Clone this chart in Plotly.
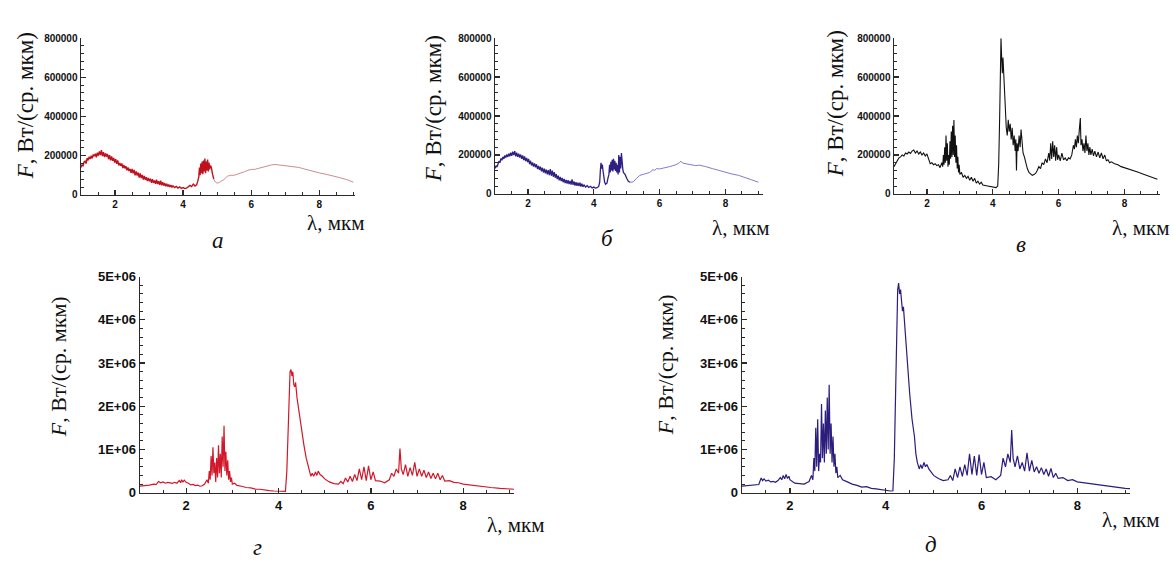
import plotly.graph_objects as go

# Spectral radiant intensity, values in thousands of W/(sr*um)
spec_a = [(1.00,140),(1.03,155),(1.06,146),(1.09,168),(1.12,172),(1.15,160),(1.18,188),(1.21,176),(1.24,195),(1.27,183),
 (1.30,200),(1.33,186),(1.36,206),(1.39,197),(1.42,210),(1.45,192),(1.48,215),(1.51,200),(1.54,222),(1.57,203),
 (1.60,228),(1.63,198),(1.66,218),(1.69,193),(1.72,212),(1.75,195),(1.78,208),(1.81,182),(1.84,203),(1.87,176),
 (1.90,196),(1.93,174),(1.96,188),(1.99,165),(2.02,182),(2.05,158),(2.08,176),(2.11,150),(2.14,163),(2.17,148),
 (2.20,160),(2.23,137),(2.26,152),(2.29,135),(2.32,146),(2.35,125),(2.38,140),(2.41,122),(2.44,133),(2.47,112),
 (2.50,132),(2.53,110),(2.56,127),(2.59,100),(2.62,120),(2.65,98),(2.68,114),(2.71,88),(2.74,110),(2.77,86),
 (2.80,102),(2.83,78),(2.86,97),(2.89,77),(2.92,90),(2.95,70),(2.98,86),(3.01,69),(3.04,82),(3.07,62),
 (3.10,80),(3.13,61),(3.16,73),(3.19,56),(3.22,77),(3.25,55),(3.28,70),(3.31,51),(3.34,72),(3.37,49),
 (3.40,64),(3.43,47),(3.46,60),(3.49,44),(3.52,57),(3.55,42),(3.58,53),(3.61,40),(3.64,50),(3.67,38),
 (3.70,46),(3.75,37),(3.80,43),(3.85,35),(3.90,41),(3.95,33),(4.00,37),(4.05,32),(4.10,34),(4.15,40),
 (4.20,48),(4.25,42),(4.30,55),(4.35,45),(4.40,52),(4.43,70),(4.46,90),(4.48,140),(4.50,100),(4.52,160),
 (4.54,110),(4.56,170),(4.58,105),(4.60,175),(4.62,120),(4.64,185),(4.66,110),(4.68,170),(4.70,125),(4.72,180),
 (4.74,120),(4.76,165),(4.78,130),(4.80,150),(4.83,140),(4.86,110),(4.90,80)]
spec_a_tail = [(4.90,80),(4.95,65),(5.00,60),(5.05,62),(5.10,68),(5.20,78),(5.30,95),(5.40,100),(5.50,100),(5.60,105),
 (5.70,110),(5.80,118),(5.90,125),(6.00,130),(6.10,130),(6.20,135),(6.30,140),(6.40,145),(6.50,150),(6.60,153),
 (6.70,155),(6.80,153),(6.90,150),(7.00,148),(7.10,148),(7.20,147),(7.30,145),(7.40,140),(7.50,135),(7.60,130),
 (7.80,120),(8.00,112),(8.20,105),(8.40,98),(8.60,88),(8.80,78),(9.00,65)]

spec_b = [(1.00,130),(1.03,145),(1.06,138),(1.09,162),(1.12,168),(1.15,160),(1.18,182),(1.21,173),(1.24,190),(1.27,180),
 (1.30,197),(1.33,186),(1.36,202),(1.39,190),(1.42,207),(1.45,193),(1.48,212),(1.51,196),(1.54,217),(1.57,199),
 (1.60,220),(1.63,193),(1.66,212),(1.69,190),(1.72,207),(1.75,186),(1.78,202),(1.81,180),(1.84,198),(1.87,174),
 (1.90,192),(1.93,168),(1.96,185),(1.99,163),(2.02,180),(2.05,153),(2.08,170),(2.11,146),(2.14,162),(2.17,140),
 (2.20,157),(2.23,136),(2.26,152),(2.29,128),(2.32,144),(2.35,123),(2.38,140),(2.41,116),(2.44,134),(2.47,110),
 (2.50,130),(2.53,106),(2.56,124),(2.59,100),(2.62,122),(2.65,96),(2.68,127),(2.71,93),(2.74,120),(2.77,88),
 (2.80,112),(2.83,83),(2.86,102),(2.89,76),(2.92,94),(2.95,70),(2.98,87),(3.01,66),(3.04,82),(3.07,60),
 (3.10,77),(3.13,56),(3.16,72),(3.19,53),(3.22,70),(3.25,50),(3.28,67),(3.31,48),(3.34,74),(3.37,46),
 (3.40,64),(3.43,43),(3.46,60),(3.49,42),(3.52,57),(3.55,40),(3.58,57),(3.61,38),(3.64,52),(3.67,36),
 (3.70,47),(3.75,35),(3.80,42),(3.85,33),(3.90,39),(3.95,31),(4.00,35),(4.05,30),(4.10,32),(4.15,38),
 (4.18,60),(4.20,120),(4.22,160),(4.24,130),(4.26,150),(4.28,120),(4.30,90),(4.33,60),(4.36,50),(4.40,55),
 (4.43,80),(4.46,100),(4.48,150),(4.50,110),(4.52,165),(4.54,120),(4.56,175),(4.58,115),(4.60,180),(4.62,125),
 (4.64,170),(4.66,118),(4.68,160),(4.70,110),(4.72,150),(4.74,100),(4.76,200),(4.78,110),(4.80,190),(4.82,130),
 (4.84,210),(4.86,150),(4.88,130),(4.90,110),(4.95,100),(5.00,80),(5.05,65),(5.10,60)]
spec_b_tail = [(5.10,60),(5.20,62),(5.30,80),(5.40,95),(5.50,100),(5.60,105),(5.70,110),(5.80,125),(5.85,120),(5.90,130),
 (6.00,128),(6.10,132),(6.20,135),(6.30,140),(6.40,145),(6.50,150),(6.60,160),(6.65,168),(6.70,158),(6.80,155),
 (6.90,152),(7.00,150),(7.10,145),(7.20,148),(7.30,145),(7.40,140),(7.60,130),(7.80,120),(8.00,110),(8.20,102),
 (8.40,95),(8.60,85),(8.80,72),(9.00,60)]

spec_c = [(1.00,140),(1.05,160),(1.10,170),(1.15,185),(1.20,190),(1.25,200),(1.30,195),(1.35,210),(1.40,205),(1.45,215),
 (1.50,208),(1.55,220),(1.60,225),(1.65,210),(1.70,220),(1.75,205),(1.80,215),(1.85,200),(1.90,210),(1.95,195),
 (2.00,205),(2.03,190),(2.06,170),(2.10,155),(2.15,160),(2.20,150),(2.25,155),(2.30,145),(2.35,150),(2.40,135),
 (2.45,160),(2.48,140),(2.50,200),(2.52,150),(2.54,240),(2.56,160),(2.58,300),(2.60,170),(2.62,260),(2.64,140),
 (2.66,200),(2.68,150),(2.70,270),(2.72,180),(2.74,320),(2.76,190),(2.78,350),(2.80,200),(2.82,380),(2.84,190),
 (2.86,300),(2.88,160),(2.90,250),(2.92,130),(2.94,190),(2.96,110),(2.98,150),(3.00,100),(3.05,110),(3.10,85),
 (3.15,95),(3.20,80),(3.25,90),(3.30,70),(3.35,85),(3.40,65),(3.45,80),(3.50,55),(3.55,65),(3.60,50),
 (3.65,60),(3.70,45),(3.80,42),(3.90,38),(4.00,35),(4.10,32),(4.15,40),(4.18,150),(4.21,400),(4.23,650),
 (4.25,800),(4.27,700),(4.29,620),(4.31,700),(4.33,600),(4.35,560),(4.38,450),(4.41,340),(4.44,300),(4.47,380),
 (4.50,320),(4.53,360),(4.56,280),(4.59,340),(4.62,250),(4.65,300),(4.68,220),(4.70,280),(4.72,120),(4.74,260),
 (4.77,220),(4.80,300),(4.83,240),(4.86,330),(4.89,250),(4.92,210),(4.96,190),(5.00,160),(5.05,130),(5.10,110),
 (5.15,100),(5.20,95),(5.25,100),(5.30,105),(5.35,120),(5.40,140),(5.45,130),(5.50,160),(5.55,150),(5.60,180),
 (5.65,160),(5.70,210),(5.73,170),(5.76,260),(5.79,180),(5.82,270),(5.85,190),(5.88,250),(5.91,170),(5.94,240),
 (5.97,175),(6.00,200),(6.05,170),(6.10,210),(6.15,175),(6.20,185),(6.25,170),(6.30,185),(6.35,180),(6.40,200),
 (6.45,250),(6.48,230),(6.51,280),(6.54,240),(6.57,300),(6.60,260),(6.63,330),(6.66,390),(6.68,250),(6.71,280),
 (6.74,220),(6.77,260),(6.80,210),(6.83,300),(6.86,220),(6.89,260),(6.92,200),(6.95,240),(6.98,200),(7.02,230),
 (7.06,195),(7.10,220),(7.15,190),(7.20,215),(7.25,185),(7.30,210),(7.35,180),(7.40,200),(7.45,170),(7.50,175),
 (7.55,160),(7.60,165),(7.70,155),(7.80,150),(7.90,140),(8.00,135),(8.20,125),(8.40,112),(8.60,100),(8.80,88),
 (9.00,75)]

spec_d = [(1.00,150),(1.10,160),(1.20,175),(1.30,200),(1.35,190),(1.40,260),(1.45,230),(1.50,250),(1.55,220),(1.60,240),
 (1.70,215),(1.75,240),(1.80,220),(1.85,280),(1.88,230),(1.90,300),(1.93,250),(1.96,290),(2.00,240),(2.05,220),
 (2.10,180),(2.15,190),(2.20,165),(2.25,175),(2.30,150),(2.35,160),(2.40,200),(2.45,300),(2.48,220),(2.50,500),
 (2.52,300),(2.54,850),(2.56,400),(2.58,1050),(2.60,450),(2.62,700),(2.64,250),(2.66,800),(2.68,350),(2.70,1100),
 (2.72,450),(2.74,900),(2.76,350),(2.78,1300),(2.80,600),(2.82,1550),(2.84,500),(2.86,950),(2.88,400),(2.90,750),
 (2.92,300),(2.94,500),(2.96,250),(2.98,350),(3.00,200),(3.05,220),(3.10,170),(3.20,150),(3.30,120),(3.40,110),
 (3.50,85),(3.60,80),(3.70,60),(3.80,50),(3.90,40),(4.00,30),(4.10,25),(4.15,30),(4.18,500),(4.21,1500),
 (4.23,2500),(4.25,2800),(4.27,2850),(4.29,2700),(4.31,2800),(4.33,2500),(4.35,2450),(4.37,2550),(4.40,2200),(4.45,1800),
 (4.50,1400),(4.55,1100),(4.60,800),(4.63,650),(4.66,500),(4.70,380),(4.73,450),(4.76,380),(4.80,480),(4.83,400),
 (4.86,500),(4.90,420),(4.95,380),(5.00,320),(5.10,250),(5.20,210),(5.30,200),(5.35,260),(5.40,210),(5.45,340),
 (5.50,250),(5.55,380),(5.60,260),(5.65,420),(5.70,280),(5.75,550),(5.80,300),(5.85,600),(5.90,280),(5.95,620),
 (6.00,300),(6.05,480),(6.10,280),(6.20,270),(6.30,230),(6.40,300),(6.45,450),(6.50,380),(6.55,550),(6.60,450),
 (6.63,1020),(6.66,550),(6.70,420),(6.75,650),(6.80,380),(6.85,580),(6.90,400),(6.95,700),(7.00,380),(7.05,550),
 (7.10,380),(7.15,520),(7.20,350),(7.25,480),(7.30,330),(7.35,450),(7.40,320),(7.45,450),(7.50,300),(7.55,400),
 (7.60,270),(7.70,280),(7.80,240),(7.90,230),(8.00,200),(8.20,170),(8.40,140),(8.60,120),(8.80,100),(9.00,85),
 (9.10,80)]

spec_e = [(1.00,150),(1.10,165),(1.20,180),(1.30,200),(1.35,190),(1.40,340),(1.43,280),(1.46,320),(1.50,270),(1.55,290),
 (1.60,250),(1.65,260),(1.70,240),(1.75,280),(1.80,350),(1.83,300),(1.86,400),(1.89,320),(1.92,420),(1.95,330),
 (1.98,380),(2.00,300),(2.05,250),(2.10,220),(2.20,210),(2.30,200),(2.35,230),(2.40,260),(2.45,400),(2.48,300),
 (2.50,800),(2.52,500),(2.54,1500),(2.56,600),(2.58,1700),(2.60,500),(2.62,900),(2.64,700),(2.66,2050),(2.68,800),
 (2.70,1600),(2.72,700),(2.74,1900),(2.76,900),(2.78,2200),(2.80,1000),(2.82,2500),(2.84,900),(2.86,1600),(2.88,700),
 (2.90,1300),(2.92,600),(2.94,900),(2.96,450),(2.98,600),(3.00,350),(3.05,400),(3.10,300),(3.20,250),(3.30,200),
 (3.40,170),(3.50,130),(3.60,140),(3.70,100),(3.80,90),(3.90,70),(4.00,50),(4.10,40),(4.15,45),(4.18,800),
 (4.21,2500),(4.23,4000),(4.25,4700),(4.27,4850),(4.29,4600),(4.31,4700),(4.33,4400),(4.35,4200),(4.37,4300),(4.40,3800),
 (4.45,3000),(4.50,2300),(4.55,1700),(4.60,1300),(4.63,900),(4.66,700),(4.70,550),(4.73,650),(4.76,560),(4.80,700),
 (4.83,600),(4.86,650),(4.90,550),(4.95,480),(5.00,400),(5.10,330),(5.20,280),(5.30,300),(5.35,400),(5.40,280),
 (5.45,550),(5.50,350),(5.55,600),(5.60,380),(5.65,650),(5.70,400),(5.75,900),(5.80,420),(5.85,850),(5.90,400),
 (5.95,880),(6.00,420),(6.05,700),(6.10,350),(6.20,370),(6.30,300),(6.40,400),(6.45,800),(6.50,600),(6.55,900),
 (6.60,700),(6.63,1450),(6.66,800),(6.70,600),(6.75,850),(6.80,550),(6.85,700),(6.90,500),(6.95,920),(7.00,500),
 (7.05,750),(7.10,480),(7.15,600),(7.20,450),(7.25,580),(7.30,420),(7.35,550),(7.40,380),(7.45,560),(7.50,350),
 (7.55,450),(7.60,330),(7.70,350),(7.80,280),(7.90,300),(8.00,250),(8.20,220),(8.40,180),(8.60,150),(8.80,120),
 (9.00,100),(9.10,95)]

top_yticks = [0, 200000, 400000, 600000, 800000]
top_yticklabels = ["0", "200000", "400000", "600000", "800000"]
bot_yticks = [0, 1e6, 2e6, 3e6, 4e6, 5e6]
bot_yticklabels = ["0", "1E+06", "2E+06", "3E+06", "4E+06", "5E+06"]
xticks = [2, 4, 6, 8]
panel_letters = ["а", "б", "в", "г", "д"]
y_title = "<i>F</i>, Вт/(ср. мкм)"
x_title = "λ, мкм"

W, H = 1173, 563

def px(x0, x1):
    return [x0 / W, x1 / W]

def py(top, bottom):
    return [1 - bottom / H, 1 - top / H]

panels = [
    dict(xd=px(81, 355), yd=py(32, 193), xr=[1, 9.05], top=True),
    dict(xd=px(495, 763), yd=py(32, 192), xr=[1, 9.14], top=True),
    dict(xd=px(894, 1160), yd=py(32, 192), xr=[1, 9.08], top=True),
    dict(xd=px(140, 514), yd=py(277, 499), xr=[1, 9.1], top=False),
    dict(xd=px(742, 1130), yd=py(277, 499), xr=[1, 9.1], top=False),
]

traces = [
    (0, spec_a, "#c0101c", 1.4), (0, spec_a_tail, "#c8908a", 1.0),
    (1, spec_b, "#2e1f80", 1.3), (1, spec_b_tail, "#8a7ac8", 1.0),
    (2, spec_c, "#111111", 1.1),
    (3, spec_d, "#d0182a", 1.2),
    (4, spec_e, "#2c1c7c", 1.2),
]

fig = go.Figure()
for idx, spec, color, w in traces:
    xs = [p[0] for p in spec]
    ys = [p[1] * 1000 for p in spec]
    sfx = "" if idx == 0 else str(idx + 1)
    fig.add_trace(go.Scatter(x=xs, y=ys, mode="lines", line=dict(color=color, width=w),
                             xaxis="x" + sfx, yaxis="y" + sfx, showlegend=False, hoverinfo="skip"))

layout = dict(width=W, height=H, margin=dict(l=0, r=0, t=0, b=0),
              paper_bgcolor="white", plot_bgcolor="rgba(0,0,0,0)", showlegend=False)
axcol = "#2a2a2a"
for i, p in enumerate(panels):
    sfx = "" if i == 0 else str(i + 1)
    fs = 10 if p["top"] else 13
    layout["xaxis" + sfx] = dict(
        domain=p["xd"], range=p["xr"], anchor="y" + sfx, showgrid=False, zeroline=False,
        showline=True, linecolor=axcol, linewidth=1.5, ticks="inside", ticklen=5, tickwidth=1.3,
        tickcolor=axcol, tickmode="array", tickvals=xticks, ticktext=[str(t) for t in xticks],
        tickfont=dict(family="Liberation Sans", size=fs, color="#111", weight="bold"),
        minor=dict(tickmode="linear", tick0=1, dtick=0.5, ticks="inside", ticklen=3, tickcolor=axcol, tickwidth=1),
        fixedrange=True)
    if p["top"]:
        yv, yt, yr, mdt = top_yticks, top_yticklabels, [0, 800000], 40000
    else:
        yv, yt, yr, mdt = bot_yticks, bot_yticklabels, [0, 5e6], 200000
    layout["yaxis" + sfx] = dict(
        domain=p["yd"], range=yr, anchor="x" + sfx, showgrid=False, zeroline=False,
        showline=True, linecolor=axcol, linewidth=1.5, ticks="inside", ticklen=5, tickwidth=1.3,
        tickcolor=axcol, tickmode="array", tickvals=yv, ticktext=yt,
        tickfont=dict(family="Liberation Sans", size=fs, color="#111", weight="bold"),
        minor=dict(tickmode="linear", tick0=0, dtick=mdt, ticks="inside", ticklen=3, tickcolor=axcol, tickwidth=1),
        fixedrange=True)

ann = []
serif = "Liberation Serif"
ytitle_pos = [(25, 102, 23), (433, 105, 23), (835, 100, 23), (58, 370, 22), (665, 368, 22)]
for (x, y, s) in ytitle_pos:
    ann.append(dict(text=y_title, x=x / W, y=1 - y / H, xref="paper", yref="paper", textangle=-90,
                    xanchor="center", yanchor="middle", showarrow=False,
                    font=dict(family=serif, size=s, color="#111")))
xtitle_pos = [(366, 222), (771, 227), (1171, 227), (546, 532), (1161, 527)]
for (x, y) in xtitle_pos:
    ann.append(dict(text=x_title, x=x / W, y=1 - y / H, xref="paper", yref="paper",
                    xanchor="right", yanchor="middle", showarrow=False,
                    font=dict(family=serif, size=21, color="#111")))
letter_pos = [(218, 240), (607, 238), (1021, 244), (257, 555), (931, 552)]
for (x, y), L in zip(letter_pos, panel_letters):
    ann.append(dict(text="<i>" + L + "</i>", x=x / W, y=1 - y / H, xref="paper", yref="paper",
                    xanchor="center", yanchor="middle", showarrow=False,
                    font=dict(family=serif, size=23, color="#111")))
layout["annotations"] = ann

fig.update_layout(**layout)
fig.write_html("out.html", config={"displayModeBar": False, "staticPlot": True},
               post_script="document.body.style.margin='0px';document.body.style.overflow='hidden';")
